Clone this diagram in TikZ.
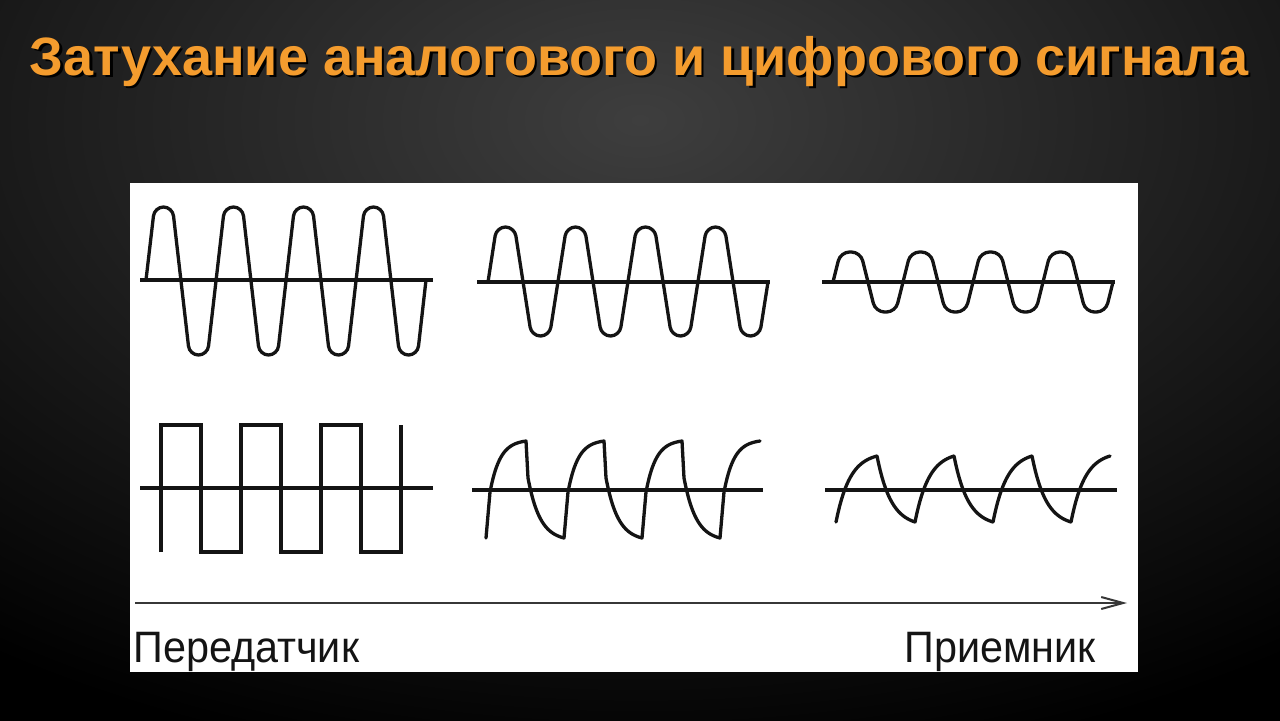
\documentclass[tikz,border=0pt]{standalone}
\usepackage{fontspec}
\setmainfont{Liberation Sans}
\usetikzlibrary{arrows.meta}
\definecolor{titleorange}{RGB}{244,156,46}
\definecolor{ink}{RGB}{20,20,20}
\definecolor{bgtop}{RGB}{62,62,62}
\newcommand\expto[5]{-- plot[domain=#1:#3,samples=24] (\x,{#2+(#4-#2)*(1-exp(-(\x-#1)/#5))/(1-exp(-(#3-#1)/#5))})}
\begin{document}
\begin{tikzpicture}[x=0.5pt,y=-0.5pt,
  wave/.style={draw=ink,line width=1.65pt,line join=round,line cap=round},
  sqwave/.style={draw=ink,line width=1.6pt,line join=miter},
  axisline/.style={draw=ink,line width=1.6pt},
  arrowline/.style={draw=ink!85,line width=1pt,-{Straight Barb[length=11pt,width=6pt,line width=1pt]}},
  titletext/.style={font=\fontsize{27}{32}\selectfont\bfseries,inner sep=0pt,anchor=base},
  lab/.style={font=\fontsize{22}{26}\selectfont,text=ink,inner sep=0pt,xscale=0.94}]
\useasboundingbox (0,0) rectangle (1280,720);
\begin{scope}
\clip (0,0) rectangle (1280,720);
\shade[inner color=bgtop,outer color=black] (-460,-540) rectangle (1740,780);
\end{scope}
% title
\node[titletext,text=black] (titleshadow) at (641.5,77.5) {Затухание аналогового и цифрового сигнала};
\node[titletext,text=titleorange] (title) at (639,75) {Затухание аналогового и цифрового сигнала};
% panel
\fill[white] (130,183) rectangle (1138,672);
% axes
\draw[axisline] (140,280) -- (433,280);
\draw[axisline] (477,282) -- (770,282);
\draw[axisline] (822,282) -- (1115,282);
\draw[axisline] (140,488) -- (433,488);
\draw[axisline] (472,490) -- (763,490);
\draw[axisline] (825,490) -- (1117,490);
% analog row
\draw[wave,rounded corners=4.5pt] (146,280)
  \foreach \k in {0,...,3}{ -- ({146+70*\k+17.5-9},207) -- ({146+70*\k+17.5+9},207)
                            -- ({146+70*\k+52.5-9},355) -- ({146+70*\k+52.5+9},355) } -- (426,280);
\draw[wave,rounded corners=4.5pt] (488,282)
  \foreach \k in {0,...,3}{ -- ({488+70*\k+17.5-9},227) -- ({488+70*\k+17.5+9},227)
                            -- ({488+70*\k+52.5-9},336) -- ({488+70*\k+52.5+9},336) } -- (768,282);
\draw[wave,rounded corners=4.5pt] (833,282)
  \foreach \k in {0,...,3}{ -- ({833+70*\k+17.5-10},252) -- ({833+70*\k+17.5+10},252)
                            -- ({833+70*\k+52.5-10},312) -- ({833+70*\k+52.5+10},312) } -- (1113,282);
% digital row
\draw[sqwave] (161,552) -- (161,425) -- (201,425) -- (201,552) -- (241,552) -- (241,425)
  -- (281,425) -- (281,552) -- (321,552) -- (321,425) -- (361,425) -- (361,552)
  -- (401,552) -- (401,425);
\draw[wave] (486,538) -- (490,492) \expto{490}{492}{526}{441}{10}
  -- (528,478) \expto{528}{478}{564}{538}{12}
  -- (568,492) \expto{568}{492}{604}{441}{10}
  -- (606,478) \expto{606}{478}{642}{538}{12}
  -- (646,492) \expto{646}{492}{682}{441}{10}
  -- (684,478) \expto{684}{478}{720}{538}{12}
  -- (724,492) \expto{724}{492}{760}{441}{10};
\draw[wave] (836,522) \expto{836}{522}{877}{456}{14}
  \expto{877}{456}{915}{522}{14}
  \expto{915}{522}{954}{456}{14}
  \expto{954}{456}{993}{522}{14}
  \expto{993}{522}{1032}{456}{14}
  \expto{1032}{456}{1071}{522}{14}
  \expto{1071}{522}{1110}{456}{14};
% direction arrow and labels
\coordinate (a0) at (135,603);
\coordinate (a1) at (1127,603);
\draw[arrowline] (a0) -- (a1);
\node[lab,anchor=base west] (tx) at (133,662) {Передатчик};
\node[lab,anchor=base east] (rx) at (1096,662) {Приемник};
\end{tikzpicture}
\end{document}
